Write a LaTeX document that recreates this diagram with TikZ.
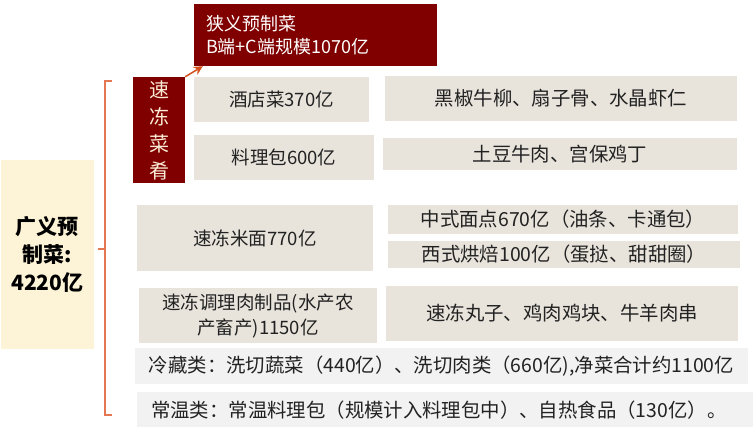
\documentclass[tikz,border=0pt]{standalone}
\usepackage{fontspec}
\setmainfont{Noto Sans CJK SC}
\usepackage{tikz}
\usetikzlibrary{arrows.meta}
\definecolor{darkred}{RGB}{128,0,0}
\definecolor{beige}{RGB}{232,228,220}
\definecolor{lightband}{RGB}{242,242,242}
\definecolor{cream}{RGB}{253,243,214}
\definecolor{ink}{RGB}{34,34,34}
\definecolor{bracecol}{RGB}{228,118,84}
\definecolor{arrowcol}{RGB}{214,80,30}
\definecolor{pale}{RGB}{250,236,214}

\begin{document}
\begin{tikzpicture}[
      x=1pt, y=-1pt,
      cell/.style={fill=beige, inner sep=0pt, align=center, text=ink,
        font=\fontsize{18.5}{25}\selectfont},
      wide cell/.style={cell, font=\fontsize{19.4}{25}\selectfont},
      band/.style={wide cell, fill=lightband},
      brace/.style={draw=bracecol, line width=1.5pt},
      up/.style={-{Stealth[length=9pt,width=9pt]}, draw=arrowcol, line width=1.5pt}
      ]
      \useasboundingbox (0,0) rectangle (753,430);
      % left: total
      \node[fill=cream, inner sep=0pt, align=center, minimum width=93pt, minimum height=189pt,
        font=\fontsize{21}{28}\selectfont\bfseries] (wide) at (47.5,254.5)
        {广义预\\制菜:\\4220亿};
      \draw[brace] (112,81) -- (105,81) -- (105,415) -- (112,415);
      \draw[brace] (105,249) -- (98,249);
      % top: narrow
      \node[fill=darkred, text=white, inner xsep=12pt, inner ysep=0pt, text width=219pt,
        align=left, minimum height=62pt, font=\fontsize{18}{22.5}\selectfont] (narrow) at (315.5,35)
        {狭义预制菜\\B端+C端规模1070亿};
      \node[fill=darkred, text=pale, inner sep=0pt, align=center, minimum width=52pt,
        minimum height=106pt, font=\fontsize{20}{27}\selectfont] (frozen) at (159,130)
        {速\\冻\\菜\\肴};
      \draw[up] (frozen.north east) -- ([xshift=9pt]narrow.south west);
      % rows
      \node[cell, minimum width=175pt, minimum height=45pt] (hotel) at (281.5,99.5) {酒店菜370亿};
      \node[wide cell, minimum width=352pt, minimum height=45pt] (hotelx) at (561,98.5) {黑椒牛柳、扇子骨、水晶虾仁};
      \node[cell, minimum width=180pt, minimum height=45pt] (pack) at (284,157.5) {料理包600亿};
      \node[wide cell, minimum width=354pt, minimum height=32pt] (packx) at (560,154) {土豆牛肉、宫保鸡丁};
      \node[cell, minimum width=236pt, minimum height=66pt] (noodle) at (255,238) {速冻米面770亿};
      \node[wide cell, minimum width=350pt, minimum height=29pt] (chinese) at (563,219.5) {中式面点670亿（油条、卡通包）};
      \node[wide cell, minimum width=352pt, minimum height=27pt] (western) at (564,254.5) {西式烘焙100亿（蛋挞、甜甜圈）};
      \node[cell, minimum width=238pt, minimum height=55pt] (meat) at (258,315.5) {速冻调理肉制品(水产农\\产畜产)1150亿};
      \node[wide cell, minimum width=352pt, minimum height=55pt] (meatx) at (562,313.5) {速冻丸子、鸡肉鸡块、牛羊肉串};
      \node[band, minimum width=613pt, minimum height=36pt] (chilled) at (441.5,366)
        {冷藏类：洗切蔬菜（440亿）、洗切肉类（660亿),净菜合计约1100亿};
      \node[band, inner xsep=14pt, text width=588pt, align=left, minimum height=35pt] (ambient) at (445,410)
        {常温类：常温料理包（规模计入料理包中）、自热食品（130亿）。};
    \end{tikzpicture}
\end{document}
